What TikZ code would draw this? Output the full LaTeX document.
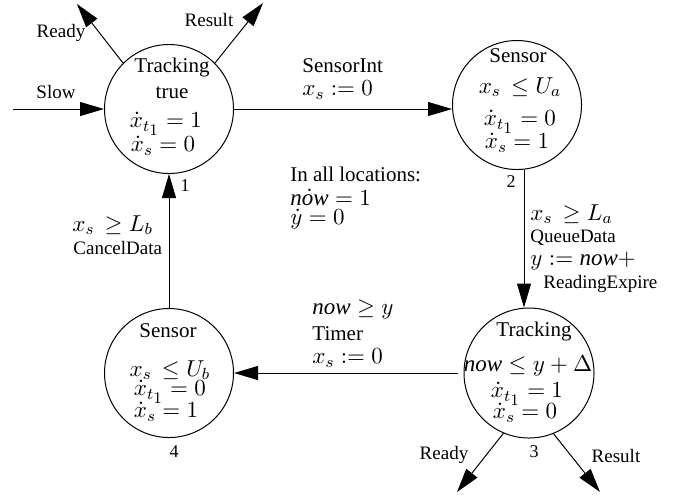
\RequirePackage{fix-cm}
\documentclass[tikz,border=0pt]{standalone}
\usepackage[no-math]{fontspec}
\setmainfont{Liberation Serif}
\usetikzlibrary{arrows.meta}
\newcommand{\mth}[1]{{\fontsize{11.5}{13}\selectfont$#1$}}
\newcommand{\nw}{\textit{now}}
\newcommand{\xt}{\dot{x}_{t_{\scriptstyle 1}}}
\begin{document}
\begin{tikzpicture}[x=0.5pt,y=-0.5pt,
  state/.style={draw, circle, line width=0.5pt, inner sep=0pt},
  txt/.style={inner sep=0pt, font=\fontsize{10.5}{12}\selectfont},
  small/.style={inner sep=0pt, font=\fontsize{9.5}{11}\selectfont},
  num/.style={inner sep=0pt, font=\fontsize{9}{10}\selectfont},
  lbl/.style={anchor=west, inner sep=0pt, font=\fontsize{10.5}{12}\selectfont},
  slbl/.style={anchor=west, inner sep=0pt, font=\fontsize{9.5}{11}\selectfont},
  arr/.style={line width=0.5pt, -{Triangle[length=12pt,width=7pt]}}
]
\useasboundingbox (0,0) rectangle (678,495);

% states
\node[state, minimum size=64.5pt] (n1) at (169,109) {};
\node[state, minimum size=64.5pt] (n2) at (517,105) {};
\node[state, minimum size=65pt]   (n3) at (529,373) {};
\node[state, minimum size=64.5pt] (n4) at (169,373) {};

% contents of state 1
\node[txt] (t1a) at (172,67) {Tracking};
\node[txt] (t1b) at (172,93) {true};
\node[txt] (t1c) at (166,124) {\mth{\xt = 1}};
\node[txt] (t1d) at (163,146) {\mth{\dot{x}_s = 0}};

% contents of state 2
\node[txt] (t2a) at (518,56) {Sensor};
\node[txt] (t2b) at (520,87) {\mth{x_s\,\leq U_a}};
\node[txt] (t2c) at (520,122) {\mth{\xt = 0}};
\node[txt] (t2d) at (517,143) {\mth{\dot{x}_s = 1}};

% contents of state 3
\node[txt] (t3a) at (534,331) {Tracking};
\node[txt] (t3b) at (528,366) {\mth{\nw \leq y + \Delta}};
\node[txt] (t3c) at (527,394) {\mth{\xt = 1}};
\node[txt] (t3d) at (525,413) {\mth{\dot{x}_s = 0}};

% contents of state 4
\node[txt] (t4a) at (168,331) {Sensor};
\node[txt] (t4b) at (170,370) {\mth{x_s\,\leq U_b}};
\node[txt] (t4c) at (170,392) {\mth{\xt = 0}};
\node[txt] (t4d) at (166,412) {\mth{\dot{x}_s = 1}};

% state numbers
\node[num] (k1) at (185,186) {1};
\node[num] (k2) at (511,182) {2};
\node[num] (k3) at (534,452) {3};
\node[num] (k4) at (174,452) {4};

% free ends
\coordinate (slow0) at (13,109);
\coordinate (r1) at (77,4);
\coordinate (q1) at (263,3);
\coordinate (r3) at (457,492);
\coordinate (q3) at (600,492);

% connectors
\draw[arr] (slow0) -- (n1.west);
\draw[arr] (n1.135) -- (r1);
\draw[arr] (n1.45) -- (q1);
\draw[arr] (n1.east) -- (n1.east -| n2.west);
\draw[arr] ([xshift=3.5pt]n2.south) -- ([xshift=-2.5pt]n3.north);
\draw[arr] ([xshift=-3pt]n3.west) -- (n4.east);
\draw[arr] (n4.north) -- (n1.south);
\draw[arr] (n3.247) -- (r3);
\draw[arr] (n3.292) -- (q3);

% connector labels
\node[small] (lslow) at (56,92) {Slow};
\node[small] (lr1) at (61,33) {Ready};
\node[small] (lq1) at (209,20) {Result};
\node[small] (lr3) at (444,455) {Ready};
\node[small] (lq3) at (616,456) {Result};

\node[lbl] (e12a) at (302,66) {SensorInt};
\node[lbl] (e12b) at (302,90) {\mth{x_s := 0}};

\node[lbl] (e23a) at (530,214) {\mth{x_s\,\geq L_a}};
\node[slbl] (e23b) at (530,238) {QueueData};
\node[lbl] (e23c) at (530,261) {\mth{y := \nw +}};
\node[slbl] (e23d) at (543,284) {ReadingExpire};

\node[lbl] (e34a) at (312,309) {\mth{\nw \geq y}};
\node[lbl] (e34b) at (312,334) {Timer};
\node[lbl] (e34c) at (312,358) {\mth{x_s := 0}};

\node[lbl] (e41a) at (72,225) {\mth{x_s\,\geq L_b}};
\node[slbl] (e41b) at (73,248) {CancelData};

% invariant note
\node[lbl] (g1) at (290,174) {In all locations:};
\node[lbl] (g2) at (290,197) {\mth{\dot{\nw} = 1}};
\node[lbl] (g3) at (290,219) {\mth{\dot{y} = 0}};
\end{tikzpicture}
\end{document}
